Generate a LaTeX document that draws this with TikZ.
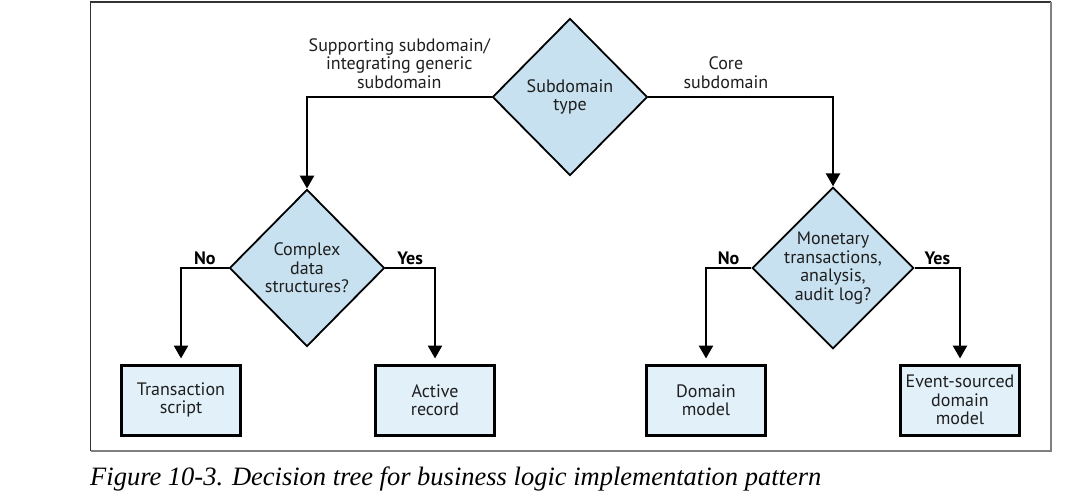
\documentclass[tikz,border=0pt]{standalone}
\usepackage{fontspec}
\setmainfont{PT Sans}
\newfontfamily\capfont{Liberation Serif}
\usetikzlibrary{positioning,shapes.geometric,arrows.meta}

\definecolor{diafill}{RGB}{200,225,240}
\definecolor{boxfill}{RGB}{226,240,250}
\definecolor{inkgray}{RGB}{30,30,30}

\tikzset{
	decision/.style={diamond, draw=black, line width=1.8pt, fill=diafill,
		minimum width=155pt, minimum height=157pt, inner sep=-2pt,
		align=center, text=inkgray, font=\fontsize{18}{18.5}\selectfont},
	pattern/.style={rectangle, draw=black, line width=3pt, fill=boxfill,
		minimum width=119pt, minimum height=70pt, inner sep=2pt,
		align=center, text=inkgray, font=\fontsize{18}{18.5}\selectfont},
	branch/.style={line width=2.6pt, -{Triangle[width=14pt,length=13pt]}},
	answer/.style={above, inner sep=2pt, text=black, font=\bfseries\fontsize{18}{18.5}\selectfont},
	kind/.style={above, inner sep=7pt, align=center, text=inkgray, font=\fontsize{18}{18.5}\selectfont}
}

\begin{document}
\begin{tikzpicture}[x=1pt, y=-1pt]
	\useasboundingbox (0,0) rectangle (1082,497);
	
	% frame
	\draw[black!80, line width=1.2pt] (90.5,451) -- (90.5,2) -- (1051,2);
	\draw[black!50, line width=2pt] (1051,2) -- (1051,451) -- (90.5,451);
	
	\node[decision] (type) at (570,97) {Subdomain\\type};
	
	\node[decision] (complex) at (307,268) {Complex\\data\\structures?};
	\node[decision] (monetary) at (833,268) {Monetary\\transactions,\\analysis,\\audit log?};
	
	\node[pattern] (script) at (181,400) {Transaction\\script};
	\node[pattern] (record) at (435,400) {Active\\record};
	\node[pattern] (model) at (706,400) {Domain\\model};
	\node[pattern] (events) at (960,400) {Event-sourced\\domain\\model};
	
	\draw[branch] (type.west) -| node[pos=0.25, kind]
		{Supporting subdomain/\\integrating generic\\subdomain} (complex.north);
	\draw[branch] (type.east) -| node[pos=0.21, kind] {Core\\subdomain} (monetary.north);
	
	\draw[branch, shorten >=5pt] (complex.west) -| node[pos=0.25, answer] {No} (script.north);
	\draw[branch, shorten >=5pt] (complex.east) -| node[pos=0.25, answer] {Yes} (record.north);
	\draw[branch, shorten >=5pt] (monetary.west) -| node[pos=0.25, answer] {No} (model.north);
	\draw[branch, shorten >=5pt] (monetary.east) -| node[pos=0.25, answer] {Yes} (events.north);
	
	\node[anchor=base west, inner sep=0pt, font=\capfont\itshape\fontsize{26.5}{30}\selectfont]
		(caption) at (90,485) {Figure 10-3. Decision tree for business logic implementation pattern};
	
\end{tikzpicture}
\end{document}
